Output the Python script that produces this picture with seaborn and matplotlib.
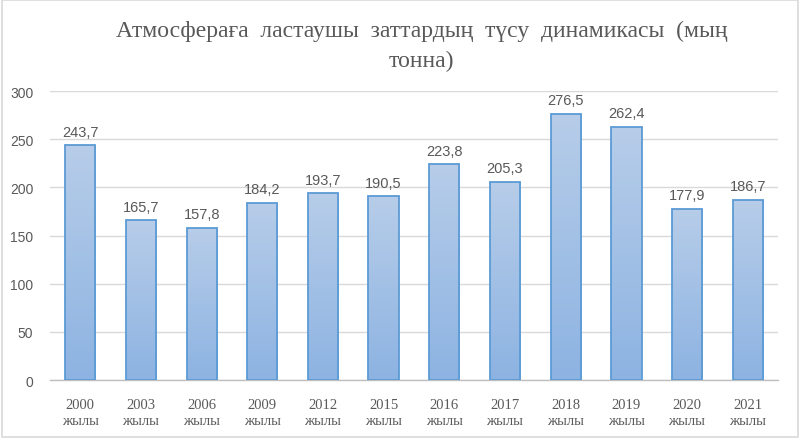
import numpy as np
import pandas as pd
import matplotlib
matplotlib.use("Agg")
import matplotlib.pyplot as plt
import seaborn as sns
from matplotlib.colors import LinearSegmentedColormap
from matplotlib.patches import Rectangle

# Data
years = ["2000", "2003", "2006", "2009", "2012", "2015",
         "2016", "2017", "2018", "2019", "2020", "2021"]
values = [243.7, 165.7, 157.8, 184.2, 193.7, 190.5,
          223.8, 205.3, 276.5, 262.4, 177.9, 186.7]
year_suffix = "жылы"
title_words = ["Атмосфераға", "ластаушы", "заттардың", "түсу", "динамикасы", "(мың"]
title = "  ".join(title_words) + "\nтонна)"

df = pd.DataFrame({"year": [f"{y}\n{year_suffix}" for y in years],
                   "value": values})

sns.set_theme(style="white")
serif = ["Liberation Serif", "DejaVu Serif"]
sans = ["Liberation Sans", "DejaVu Sans"]
plt.rcParams["font.family"] = sans

fig = plt.figure(figsize=(8, 4.39), dpi=100)
ax = fig.add_axes([0.0625, 0.1321, 0.91, 0.6583])

sns.barplot(data=df, x="year", y="value", ax=ax, width=0.5,
            color="#9dbde6", edgecolor="#5b9bd5", linewidth=1.3, zorder=3)

# vertical gradient fill clipped to each bar
grad = LinearSegmentedColormap.from_list("g", ["#8db3e2", "#b7cde9"])
gimg = np.linspace(0, 1, 256).reshape(-1, 1)
for p in ax.patches:
    x0, y0 = p.get_x(), p.get_y()
    w, h = p.get_width(), p.get_height()
    im = ax.imshow(gimg, cmap=grad, origin="lower", aspect="auto",
                   extent=[x0, x0 + w, y0, y0 + h], zorder=2.5)
    im.set_clip_path(p)
    p.set_facecolor("none")

for i, v in enumerate(values):
    ax.text(i, v + 7, f"{v:.1f}".replace(".", ","), ha="center", va="bottom",
            fontsize=10.5, color="#595959", family=sans)

ax.set_xlim(-0.5, len(years) - 0.5)
ax.set_ylim(0, 300)
ax.set_yticks(range(0, 301, 50))
ax.set_xlabel("")
ax.set_ylabel("")
ax.grid(axis="y", color="#d9d9d9", linewidth=1, zorder=0)
ax.set_axisbelow(True)
for s in ["top", "left", "right"]:
    ax.spines[s].set_visible(False)
ax.spines["bottom"].set_color("#bfbfbf")
ax.spines["bottom"].set_linewidth(1)
ax.tick_params(axis="y", length=0, labelsize=10, labelcolor="#595959", pad=12)
ax.tick_params(axis="x", length=0, labelcolor="#595959", pad=13)
for lbl in ax.get_xticklabels():
    lbl.set_family(serif)
    lbl.set_fontsize(10.5)
    lbl.set_linespacing(1.3)

fig.text(0.527, 0.953, title, ha="center", va="top", fontsize=17,
         color="#595959", family=serif, linespacing=1.55)

# outer border
fig.patches.append(Rectangle((0.002, 0.003), 0.995, 0.994, transform=fig.transFigure,
                             fill=False, edgecolor="#d9d9d9", linewidth=1.2))

fig.savefig("out.png", dpi=100)
